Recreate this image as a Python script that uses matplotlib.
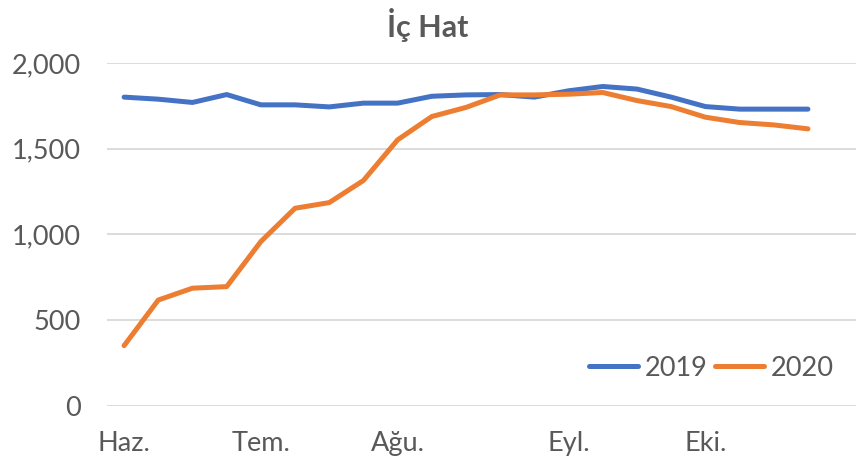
import matplotlib
matplotlib.use("Agg")
import matplotlib.pyplot as plt

# weekly domestic ("İç Hat") figures
weeks = list(range(21))
values_2019 = [1801, 1789, 1770, 1816, 1756, 1756, 1744, 1766, 1766, 1806,
               1814, 1816, 1801, 1838, 1863, 1848, 1801, 1746, 1731, 1731, 1731]
values_2020 = [352, 618, 687, 696, 959, 1153, 1186, 1315, 1552, 1688,
               1741, 1814, 1814, 1818, 1828, 1781, 1746, 1684, 1653, 1639, 1616]
tick_positions = [0, 4, 8, 13, 17]
tick_labels = ["Haz.", "Tem.", "Ağu.", "Eyl.", "Eki."]
y_ticks = [0, 500, 1000, 1500, 2000]

BLUE = "#4472C4"
ORANGE = "#ED7D31"
TEXT = "#595959"
GRID = "#D9D9D9"

plt.rcParams["font.family"] = ["Lato", "DejaVu Sans"]

W, H = 856, 465
fig = plt.figure(figsize=(W / 100, H / 100), dpi=100)
ax = fig.add_axes([107 / W, 1 - 406 / H, 1 - 107 / W, (406 - 63) / H])

ax.plot(weeks, values_2019, color=BLUE, lw=3.6, label="2019",
        solid_capstyle="round", solid_joinstyle="round")
ax.plot(weeks, values_2020, color=ORANGE, lw=3.6, label="2020",
        solid_capstyle="round", solid_joinstyle="round")

ax.set_xlim(-0.5, (W - 125) / 34.15)
ax.set_ylim(0, 2000)
ax.set_yticks(y_ticks)
ax.set_yticklabels([f"{v:,}" for v in y_ticks])
ax.set_xticks(tick_positions)
ax.set_xticklabels(tick_labels)

ax.grid(axis="y", color=GRID, lw=1.3)
ax.set_axisbelow(True)
for s in ax.spines.values():
    s.set_visible(False)
ax.tick_params(axis="both", length=0, labelsize=19.5, labelcolor=TEXT)
ax.tick_params(axis="y", pad=19)
ax.tick_params(axis="x", pad=18)

fig.text(0.5, 1 - 25 / H, "İç Hat", ha="center", va="center",
         fontsize=22, fontweight="bold", color=TEXT)

leg = ax.legend(loc="center right", bbox_to_anchor=(834 / W, 1 - 368 / H),
                bbox_transform=fig.transFigure, ncol=2, frameon=False,
                fontsize=19.5, handlelength=1.8, handletextpad=0.25,
                columnspacing=0.3, borderpad=0, borderaxespad=0)
for t in leg.get_texts():
    t.set_color(TEXT)

fig.savefig("out.png", dpi=100)
